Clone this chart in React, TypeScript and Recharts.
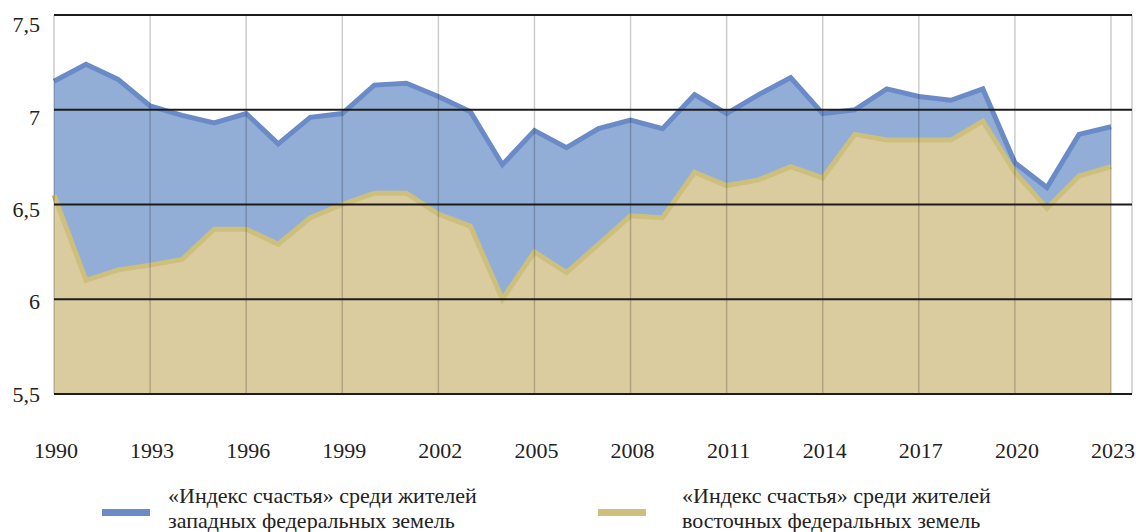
import { Area, AreaChart, CartesianGrid, XAxis, YAxis } from "recharts";

document.body.style.margin = "0";

const years = [
  1990, 1991, 1992, 1993, 1994, 1995, 1996, 1997, 1998, 1999, 2000, 2001,
  2002, 2003, 2004, 2005, 2006, 2007, 2008, 2009, 2010, 2011, 2012, 2013,
  2014, 2015, 2016, 2017, 2018, 2019, 2020, 2021, 2022, 2023,
];

// «Индекс счастья» – западные федеральные земли
const west = [
  7.15, 7.24, 7.16, 7.02, 6.97, 6.93, 6.98, 6.82, 6.96, 6.98, 7.13, 7.14,
  7.07, 6.99, 6.71, 6.89, 6.8, 6.9, 6.945, 6.9, 7.08, 6.98, 7.08, 7.17,
  6.98, 7.0, 7.11, 7.07, 7.05, 7.11, 6.72, 6.59, 6.87, 6.91,
];

// «Индекс счастья» – восточные федеральные земли
const east = [
  6.55, 6.1, 6.155, 6.18, 6.21, 6.37, 6.37, 6.29, 6.43, 6.5, 6.56, 6.56,
  6.45, 6.385, 6.0, 6.25, 6.14, 6.29, 6.44, 6.43, 6.67, 6.6, 6.63, 6.7,
  6.64, 6.87, 6.84, 6.84, 6.84, 6.94, 6.67, 6.48, 6.65, 6.7,
];

const xTicks = [
  1990, 1993, 1996, 1999, 2002, 2005, 2008, 2011, 2014, 2017, 2020, 2023,
];
const yTicks = [5.5, 6, 6.5, 7, 7.5];

const legendItems = [
  {
    color: "#6a8bc8",
    lines: ["«Индекс счастья» среди жителей", "западных федеральных земель"],
  },
  {
    color: "#cdbf7c",
    lines: ["«Индекс счастья» среди жителей", "восточных федеральных земель"],
  },
];

const data = years.map((year, i) => ({ year, west: west[i], east: east[i] }));

const FONT = "'Liberation Serif', 'DejaVu Serif', serif";
const TEXT = "#222";

function YTick({ x, y, payload, index }: any) {
  return (
    <text
      x={x - 6}
      y={y + index * 2.4}
      dy="0.355em"
      textAnchor="end"
      fill={TEXT}
      fontSize={22}
      fontFamily={FONT}
    >
      {String(payload.value).replace(".", ",")}
    </text>
  );
}

function XTick({ x, y, payload }: any) {
  return (
    <text
      x={x + 2}
      y={y + 56}
      textAnchor="middle"
      fill={TEXT}
      fontSize={22}
      fontFamily={FONT}
    >
      {payload.value}
    </text>
  );
}

export default function App() {
  return (
    <div style={{ position: "relative", width: 1136, height: 532, background: "#fff" }}>
      <AreaChart
        width={1136}
        height={532}
        data={data}
        margin={{ top: 15, right: 4, bottom: 98, left: 0 }}
      >
        <XAxis
          dataKey="year"
          type="number"
          domain={[1990, 2023]}
          ticks={xTicks}
          padding={{ left: 0, right: 21 }}
          axisLine={false}
          tickLine={false}
          tick={<XTick />}
          height={40}
        />
        <YAxis
          type="number"
          domain={[5.5, 7.5]}
          ticks={yTicks}
          axisLine={false}
          tickLine={false}
          tick={<YTick />}
          width={54}
        />
        <Area
          type="linear"
          dataKey="west"
          baseValue={5.5}
          stroke="#6a8bc8"
          strokeWidth={5}
          fill="#93aed6"
          fillOpacity={1}
          dot={false}
          activeDot={false}
          isAnimationActive={false}
        />
        <Area
          type="linear"
          dataKey="east"
          baseValue={5.5}
          stroke="#cdbf7c"
          strokeWidth={5}
          fill="#dbcca0"
          fillOpacity={1}
          dot={false}
          activeDot={false}
          isAnimationActive={false}
        />
        <CartesianGrid
          horizontal={false}
          stroke="rgba(0,0,0,0.2)"
          strokeWidth={1.5}
          zIndex={500}
        />
        <CartesianGrid
          vertical={false}
          stroke="#1c1c1c"
          strokeWidth={2}
          zIndex={500}
        />
      </AreaChart>

      {legendItems.map((item, i) => (
        <div
          key={i}
          style={{
            position: "absolute",
            left: i === 0 ? 102 : 598,
            top: 483,
            display: "flex",
            alignItems: "flex-start",
            fontFamily: FONT,
            fontSize: 22,
            lineHeight: "25px",
            color: TEXT,
          }}
        >
          <div
            style={{
              width: 48,
              height: 7,
              marginTop: 26,
              background: item.color,
            }}
          />
          <div style={{ marginLeft: i === 0 ? 18 : 36, whiteSpace: "nowrap" }}>
            {item.lines.map((line) => (
              <div key={line}>{line}</div>
            ))}
          </div>
        </div>
      ))}
    </div>
  );
}
